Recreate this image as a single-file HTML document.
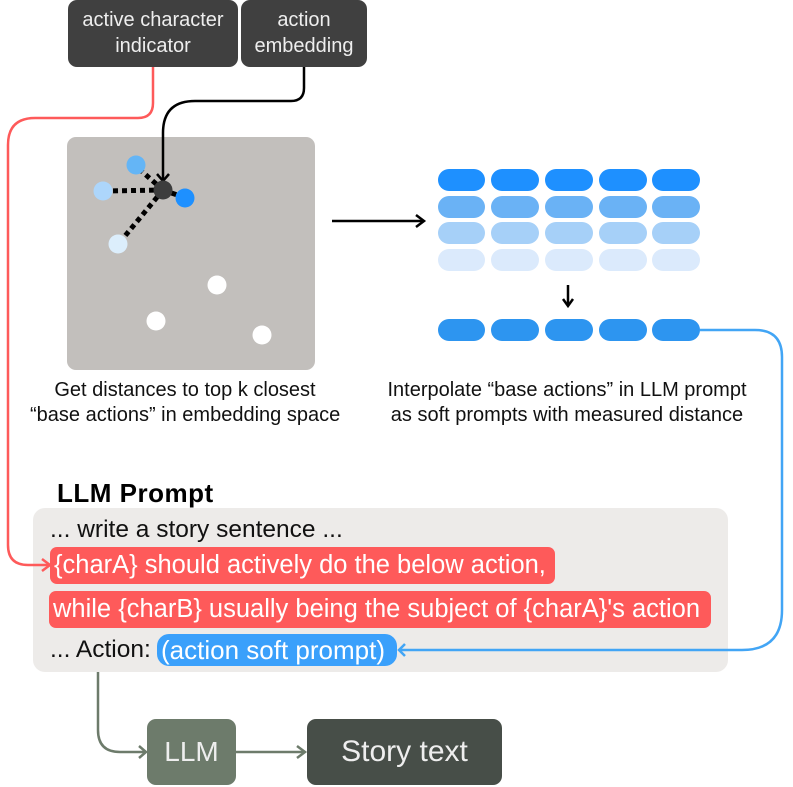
<!DOCTYPE html>
<html><head><meta charset="utf-8"><style>
body{margin:0;width:793px;height:787px;background:#fff;position:relative;overflow:hidden;font-family:"Liberation Sans",sans-serif}
.a{position:absolute;box-sizing:border-box}
.dk{background:#404040;color:#eee;border-radius:9px;text-align:center;font-size:20px;line-height:26px;padding-top:7px;white-space:nowrap}
.n{font-family:"Liberation Sans",sans-serif}
.cap{font-size:20px;text-align:center;line-height:25px;color:#111;white-space:nowrap}
.hl{background:#fe5a5a;color:#fff;border-radius:7px;font-size:25.5px;line-height:37px;padding-left:4px;white-space:nowrap}
</style></head><body>
<div class="a dk" style="left:68px;top:0;width:170px;height:67px">active character<br>indicator</div>
<div class="a dk" style="left:241px;top:0;width:126px;height:67px">action<br>embedding</div>
<div class="a" style="left:67px;top:137px;width:248px;height:233px;background:#c2bfbc;border-radius:9px"></div>
<div class="a" style="left:33px;top:508px;width:695px;height:164px;background:#edebe9;border-radius:12px"></div>
<div class="a n" style="left:57px;top:478px;font-size:26px;font-weight:bold;color:#000;letter-spacing:0.5px">LLM Prompt</div>
<div class="a n" style="left:50px;top:514px;font-size:24.5px;line-height:32px;color:#111">... write a story sentence ...</div>
<div class="a hl n" style="left:50px;top:547px;width:505px">{charA} should actively do the below action,</div>
<div class="a hl n" style="left:49px;top:591px;width:662px">while {charB} usually being the subject of {charA}'s action</div>
<div class="a n" style="left:50px;top:634px;font-size:24.5px;line-height:32px;color:#111">... Action:</div>
<div class="a n" style="left:157px;top:634px;width:240px;height:32px;background:#3aa0fb;border-radius:12px;color:#fff;font-size:26px;line-height:32px;padding-left:4px;white-space:nowrap">(action soft prompt)</div>
<svg class="a" style="left:0;top:0" width="793" height="787">
<path d="M153 67 V103 Q153 118 138 118 H35 Q8 118 8 145 V545 Q8 565 28 565 H48" fill="none" stroke="#fe5a5a" stroke-width="2.5"/>
<path d="M42 559 L50 565 L42 571" fill="none" stroke="#fe5a5a" stroke-width="2.5"/>
<path d="M304 67 V88 Q304 101 291 101 H195 Q163 101 163 133 V180" fill="none" stroke="#000" stroke-width="2.5"/>
<path d="M157 174 L163 181 L169 174" fill="none" stroke="#000" stroke-width="2.5"/>
<g stroke="#000" stroke-width="5" stroke-dasharray="5 4">
<line x1="163" y1="190" x2="138" y2="168"/><line x1="163" y1="190" x2="106" y2="191"/><line x1="163" y1="190" x2="120" y2="242"/><line x1="163" y1="190" x2="183" y2="197"/></g>
<circle cx="136" cy="165" r="9.5" fill="#64b5f6"/><circle cx="103" cy="191" r="9.5" fill="#add6fb"/>
<circle cx="185" cy="198" r="9.5" fill="#1e90ff"/><circle cx="118" cy="244" r="9.5" fill="#dceefc"/>
<circle cx="163" cy="190" r="9.5" fill="#3d3d3d"/>
<circle cx="217" cy="285" r="9.5" fill="#fff"/><circle cx="156" cy="321" r="9.5" fill="#fff"/><circle cx="262" cy="335" r="9.5" fill="#fff"/>
<line x1="332" y1="221" x2="423" y2="221" stroke="#000" stroke-width="2.5"/>
<path d="M416 215 L424 221 L416 227" fill="none" stroke="#000" stroke-width="2.5"/>
<g fill="#1e90ff"><rect x="438" y="169" width="47" height="22" rx="11"/><rect x="491" y="169" width="48" height="22" rx="11"/><rect x="545" y="169" width="48" height="22" rx="11"/><rect x="599" y="169" width="48" height="22" rx="11"/><rect x="652" y="169" width="48" height="22" rx="11"/></g>
<g fill="#6ab2f5"><rect x="438" y="196" width="47" height="22" rx="11"/><rect x="491" y="196" width="48" height="22" rx="11"/><rect x="545" y="196" width="48" height="22" rx="11"/><rect x="599" y="196" width="48" height="22" rx="11"/><rect x="652" y="196" width="48" height="22" rx="11"/></g>
<g fill="#a6d0f8"><rect x="438" y="222" width="47" height="22" rx="11"/><rect x="491" y="222" width="48" height="22" rx="11"/><rect x="545" y="222" width="48" height="22" rx="11"/><rect x="599" y="222" width="48" height="22" rx="11"/><rect x="652" y="222" width="48" height="22" rx="11"/></g>
<g fill="#dbeafc"><rect x="438" y="249" width="47" height="22" rx="11"/><rect x="491" y="249" width="48" height="22" rx="11"/><rect x="545" y="249" width="48" height="22" rx="11"/><rect x="599" y="249" width="48" height="22" rx="11"/><rect x="652" y="249" width="48" height="22" rx="11"/></g>
<g fill="#2d95f0"><rect x="438" y="319" width="47" height="22" rx="11"/><rect x="491" y="319" width="48" height="22" rx="11"/><rect x="545" y="319" width="48" height="22" rx="11"/><rect x="599" y="319" width="48" height="22" rx="11"/><rect x="652" y="319" width="48" height="22" rx="11"/></g>
<line x1="568" y1="285" x2="568" y2="305" stroke="#000" stroke-width="2.5"/>
<path d="M563 299 L568 306 L573 299" fill="none" stroke="#000" stroke-width="2.5"/>
<path d="M700 330 H755 Q782 330 782 357 V610 Q782 650 742 650 H400" fill="none" stroke="#42a5f5" stroke-width="2.5"/>
<path d="M405 644 L399 650 L405 656" fill="none" stroke="#42a5f5" stroke-width="2.5"/>
<path d="M98 672 V730 Q98 752 120 752 H145" fill="none" stroke="#6d7b6b" stroke-width="2.5"/>
<path d="M139 746 L146 752 L139 758" fill="none" stroke="#6d7b6b" stroke-width="2.5"/>
<line x1="236" y1="752" x2="304" y2="752" stroke="#6d7b6b" stroke-width="2.5"/>
<path d="M297 746 L305 752 L297 758" fill="none" stroke="#6d7b6b" stroke-width="2.5"/>
</svg>
<div class="a cap" style="left:30px;top:378px;width:310px">Get distances to top k closest<br>“base actions” in embedding space</div>
<div class="a cap" style="left:362px;top:378px;width:410px">Interpolate “base actions” in LLM prompt<br>as soft prompts with measured distance</div>
<div class="a n" style="left:147px;top:719px;width:89px;height:66px;background:#6d7b6b;border-radius:9px;color:#eee;font-size:28px;line-height:66px;text-align:center">LLM</div>
<div class="a n" style="left:307px;top:719px;width:195px;height:66px;background:#474e48;border-radius:9px;color:#eee;font-size:30px;line-height:66px;text-align:center">Story text</div>
</body></html>
